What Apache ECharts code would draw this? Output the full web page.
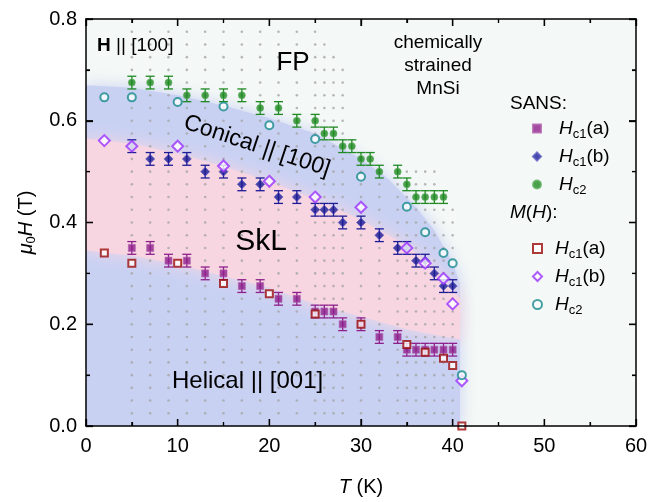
<!DOCTYPE html>
<html><head><meta charset="utf-8">
<script src="https://cdn.jsdelivr.net/npm/echarts@6/dist/echarts.min.js"></script>
<style>html,body{margin:0;padding:0;background:#fff}#c{width:652px;height:502px}</style>
</head><body><div id="c"></div>
<script>
// ---------------- data ----------------
const X_TICKS = [0, 10, 20, 30, 40, 50, 60];
const X_MINOR = [5, 15, 25, 35, 45, 55];
const Y_TICKS = [0.0, 0.2, 0.4, 0.6, 0.8];
const Y_MINOR = [0.1, 0.3, 0.5, 0.7];

// SANS
const T_SANS_A = [5,7,9,11,13,15,17,19,21,23,25,26,27,28,30,32,34,35,36,37,38,39,40];
const H_SANS_A = [0.35,0.35,0.325,0.325,0.30,0.30,0.275,0.275,0.25,0.25,0.225,0.225,0.225,0.20,0.20,0.175,0.175,0.15,0.15,0.15,0.15,0.15,0.15];
const T_SANS_B = [5,7,9,11,13,15,17,19,21,23,25,26,27,28,30,32,34,35,36,37,38,39,40];
const H_SANS_B = [0.55,0.525,0.525,0.525,0.50,0.50,0.475,0.475,0.45,0.45,0.425,0.425,0.425,0.40,0.40,0.375,0.35,0.35,0.325,0.325,0.30,0.275,0.275];
const T_SANS_C2 = [5,7,9,11,13,15,17,19,21,23,25,26,27,28,29,30,31,32,34,35,36,37,38,39];
const H_SANS_C2 = [0.675,0.675,0.675,0.65,0.65,0.65,0.65,0.625,0.625,0.60,0.60,0.575,0.575,0.55,0.55,0.525,0.525,0.50,0.50,0.475,0.45,0.45,0.45,0.45];
const ERR_SANS = 0.0125;

// M(H)
const T_MH = [2,5,10,15,20,25,30,35,37,39,40,41];
const H_MH_A = [0.34,0.32,0.32,0.28,0.26,0.22,0.20,0.16,0.145,0.133,0.119,0.0];
const H_MH_B = [0.561,0.55,0.55,0.511,0.481,0.45,0.43,0.35,0.32,0.29,0.24,0.089];
const H_MH_C2 = [0.646,0.646,0.637,0.628,0.591,0.564,0.49,0.431,0.381,0.34,0.32,0.10];

// SANS measurement grid (gray dots)
const GRID_T = [5,7,9,11,13,15,17,19,21,23,25,26,27,28,30,32,34,35,36,37,38,39,40];
const GRID_TOP = [0.775,0.775,0.775,0.775,0.775,0.775,0.775,0.775,0.775,0.775,0.775,0.75,0.725,0.70,0.525,0.50,0.50,0.50,0.50,0.50,0.50,0.45,0.425];
const GRID_ROWS = [0.025,0.05,0.075,0.1,0.125,0.15,0.175,0.2,0.225,0.25,0.275,0.3,0.325,0.35,0.375,0.4,0.425,0.45,0.475,0.5,0.525,0.55,0.575,0.6,0.625,0.65,0.675,0.7,0.725,0.75,0.775];

// phase boundaries
const FP_BOUND_T = [0,5,10,15,20,25,30,33,36,38,40,40.8];
const FP_BOUND_H = [0.67,0.665,0.65,0.63,0.605,0.575,0.525,0.485,0.43,0.385,0.32,0.28];
const SKL_TOP_T = [0,5,10,15,20,25,30,35,38,40.8];
const SKL_TOP_H = [0.565,0.555,0.535,0.51,0.48,0.445,0.405,0.355,0.31,0.25];
const SKL_BOT_T = [0,5,10,15,20,25,30,35,40.8];
const SKL_BOT_H = [0.345,0.335,0.318,0.295,0.272,0.24,0.215,0.19,0.17];
const T_EDGE = 40.8;

// ---------------- build ----------------
const FONT = 'Liberation Sans, Arial, Helvetica, sans-serif';
const pair = (ts, hs) => ts.map((t, i) => [t, hs[i]]);

const bluePoly = [[0, 0]].concat(pair(FP_BOUND_T, FP_BOUND_H), [[T_EDGE, 0]]);
const pinkPoly = pair(SKL_TOP_T, SKL_TOP_H).concat(pair(SKL_BOT_T, SKL_BOT_H).reverse());

const gridDots = [];
GRID_T.forEach((t, i) => GRID_ROWS.forEach(h => { if (h <= GRID_TOP[i] + 1e-9) gridDots.push([t, h]); }));

function region(pts, color) {
  return {
    type: 'custom', silent: true, clip: true, z: 1,
    data: [[0, 0]],
    renderItem: (params, api) => ({
      type: 'polygon',
      shape: { points: pts.map(p => api.coord(p)) },
      style: { fill: color, shadowBlur: 16, shadowColor: color }
    })
  };
}

function errBars(pts, err, color) {
  return {
    type: 'custom', silent: true, z: 3,
    data: pts.map(p => [p[0], p[1], err]),
    encode: { x: 0, y: 1 },
    renderItem: (params, api) => {
      const t = api.value(0), h = api.value(1), e = api.value(2);
      const a = api.coord([t, h + e]), b = api.coord([t, h - e]);
      const w = 4.5, st = { stroke: color, lineWidth: 1.3 };
      return { type: 'group', children: [
        { type: 'line', shape: { x1: a[0], y1: a[1], x2: b[0], y2: b[1] }, style: st },
        { type: 'line', shape: { x1: a[0] - w, y1: a[1], x2: a[0] + w, y2: a[1] }, style: st },
        { type: 'line', shape: { x1: b[0] - w, y1: b[1], x2: b[0] + w, y2: b[1] }, style: st }
      ]};
    }
  };
}

// inward ticks on all four sides, placed through the axes' own scales
const tickSeries = {
  type: 'custom', silent: true, clip: false, z: 20, zlevel: 1,
  data: [[0, 0]],
  renderItem: (params, api) => {
    const xMin = X_TICKS[0], xMax = X_TICKS[X_TICKS.length - 1];
    const yMin = Y_TICKS[0], yMax = Y_TICKS[Y_TICKS.length - 1];
    const kids = [];
    const st = w => ({ stroke: '#000', lineWidth: w });
    const xt = (v, len, w) => {
      const b = api.coord([v, yMin]), t = api.coord([v, yMax]);
      kids.push({ type: 'line', shape: { x1: b[0], y1: b[1], x2: b[0], y2: b[1] - len }, style: st(w) });
      kids.push({ type: 'line', shape: { x1: t[0], y1: t[1], x2: t[0], y2: t[1] + len }, style: st(w) });
    };
    const yt = (v, len, w) => {
      const l = api.coord([xMin, v]), r = api.coord([xMax, v]);
      kids.push({ type: 'line', shape: { x1: l[0], y1: l[1], x2: l[0] + len, y2: l[1] }, style: st(w) });
      kids.push({ type: 'line', shape: { x1: r[0], y1: r[1], x2: r[0] - len, y2: r[1] }, style: st(w) });
    };
    X_TICKS.forEach(v => xt(v, 7, 1.3));
    X_MINOR.forEach(v => xt(v, 4, 1.2));
    Y_TICKS.forEach(v => yt(v, 7, 1.3));
    Y_MINOR.forEach(v => yt(v, 4, 1.2));
    return { type: 'group', children: kids };
  }
};

const C_A = '#8e1f8c', C_B = '#1c1c96', C_C2 = '#1f8a22';
const C_MA = '#9a0a0a', C_MB = '#9a32ff', C_MC2 = '#16898c';

const richLeg = {
  i: { fontFamily: FONT, fontStyle: 'italic', fontSize: 19, color: '#000', lineHeight: 24 },
  s: { fontFamily: FONT, fontSize: 13, color: '#000', lineHeight: 13, verticalAlign: 'bottom' },
  n: { fontFamily: FONT, fontSize: 19, color: '#000', lineHeight: 24 }
};
const LEG_LABEL = {
  'SANS Hc1(a)': '{i|H}{s|c1}{n|(a)}', 'SANS Hc1(b)': '{i|H}{s|c1}{n|(b)}', 'SANS Hc2': '{i|H}{s|c2}',
  'M(H) Hc1(a)': '{i|H}{s|c1}{n|(a)}', 'M(H) Hc1(b)': '{i|H}{s|c1}{n|(b)}', 'M(H) Hc2': '{i|H}{s|c2}'
};

function axisStyle(extra) {
  return Object.assign({
    zlevel: 1, z: 10,
    axisLine: { show: true, onZero: false, lineStyle: { color: '#000', width: 1.5 } },
    axisTick: { show: true, inside: true, length: 7, lineStyle: { color: '#000', width: 1.3, opacity: 1 } },
    minorTick: { show: true, splitNumber: 2, length: 4, lineStyle: { color: '#000', width: 1.2, opacity: 1 } },
    splitLine: { show: false },
    minorSplitLine: { show: false }
  }, extra);
}

const option = {
  animation: false,
  backgroundColor: '#fff',
  grid: { left: 86, top: 19, width: 550, height: 409, show: true, backgroundColor: '#f4f8f6', borderWidth: 0 },
  xAxis: [
    axisStyle({ type: 'value', min: X_TICKS[0], max: X_TICKS[X_TICKS.length - 1], interval: 10, position: 'bottom',
      axisLabel: { fontSize: 20, color: '#000', margin: 10, fontFamily: FONT },
      name: '{i|T} (K)', nameLocation: 'middle', nameGap: 51,
      nameTextStyle: { fontSize: 20, color: '#000', fontFamily: FONT,
        rich: { i: { fontFamily: FONT, fontStyle: 'italic', fontSize: 20, color: '#000' } } } }),
    axisStyle({ type: 'value', min: 0, max: 60, interval: 10, position: 'top', axisLabel: { show: false } })
  ],
  yAxis: [
    axisStyle({ type: 'value', min: Y_TICKS[0], max: Y_TICKS[Y_TICKS.length - 1], interval: 0.2, position: 'left',
      axisLabel: { fontSize: 20, color: '#000', margin: 9, fontFamily: FONT, formatter: v => v.toFixed(1) },
      name: '{i|μ}{s|0}{i|H} (T)', nameLocation: 'middle', nameGap: 44, nameRotate: 90,
      nameTextStyle: { fontSize: 20, color: '#000', fontFamily: FONT, lineHeight: 24,
        rich: { i: { fontFamily: FONT, fontStyle: 'italic', fontSize: 20, color: '#000', lineHeight: 24 },
                s: { fontFamily: FONT, fontSize: 13, color: '#000', lineHeight: 13, verticalAlign: 'bottom' } } } }),
    axisStyle({ type: 'value', min: 0, max: 0.8, interval: 0.2, position: 'right', axisLabel: { show: false } })
  ],
  legend: [
    { data: ['SANS Hc1(a)', 'SANS Hc1(b)', 'SANS Hc2'], orient: 'vertical', left: 527, top: 114,
      itemWidth: 8, itemHeight: 8, itemGap: 6.5, selectedMode: false,
      formatter: n => LEG_LABEL[n], textStyle: { rich: richLeg, padding: [0, 0, 0, 13] } },
    { data: ['M(H) Hc1(a)', 'M(H) Hc1(b)', 'M(H) Hc2'], orient: 'vertical', left: 527, top: 234,
      itemWidth: 9, itemHeight: 9, itemGap: 6.5, selectedMode: false,
      formatter: n => LEG_LABEL[n], textStyle: { rich: richLeg, padding: [0, 0, 0, 8] } }
  ],
  graphic: [
    { type: 'text', left: 97, top: 36, z: 10, silent: true, style: { text: '{b|H} || [100]', font: '19px ' + FONT, fill: '#000',
      rich: { b: { fontFamily: FONT, fontWeight: 'bold', fontSize: 19, fill: '#000' } } } },
    { type: 'text', x: 293, y: 63, z: 10, silent: true, style: { text: 'FP', font: '26px ' + FONT, fill: '#000', align: 'center', verticalAlign: 'middle' } },
    { type: 'text', x: 438, y: 66, z: 10, silent: true, style: { text: 'chemically\nstrained\nMnSi', font: '19px ' + FONT, lineHeight: 23, fill: '#000', align: 'center', verticalAlign: 'middle' } },
    { type: 'text', x: 257, y: 146, rotation: -0.32, z: 10, silent: true, style: { text: 'Conical || [100]', font: '23px ' + FONT, fill: '#000', align: 'center', verticalAlign: 'middle' } },
    { type: 'text', x: 261, y: 242, z: 10, silent: true, style: { text: 'SkL', font: '30px ' + FONT, fill: '#000', align: 'center', verticalAlign: 'middle' } },
    { type: 'text', x: 172, y: 381, z: 10, silent: true, style: { text: 'Helical || [001]', font: '24px ' + FONT, fill: '#000', align: 'left', verticalAlign: 'middle' } },
    { type: 'text', x: 510, y: 104, z: 10, silent: true, style: { text: 'SANS:', font: '19px ' + FONT, fill: '#000', verticalAlign: 'middle' } },
    { type: 'text', x: 510, y: 213, z: 10, silent: true, style: { text: '{i|M}({i|H}):', font: '19px ' + FONT, fill: '#000', verticalAlign: 'middle',
      rich: { i: { fontFamily: FONT, fontStyle: 'italic', fontSize: 19, fill: '#000' } } } }
  ],
  series: [
    region(bluePoly, '#c9d1f3'),
    region(pinkPoly, '#f8d6e1'),
    { type: 'scatter', silent: true, z: 2, data: gridDots, symbol: 'circle', symbolSize: 2.6,
      itemStyle: { color: '#a6a6a6' } },
    errBars(pair(T_SANS_A, H_SANS_A), ERR_SANS, C_A),
    errBars(pair(T_SANS_B, H_SANS_B), ERR_SANS, C_B),
    errBars(pair(T_SANS_C2, H_SANS_C2), ERR_SANS, C_C2),
    { name: 'SANS Hc1(a)', type: 'scatter', z: 4, data: pair(T_SANS_A, H_SANS_A), symbol: 'rect', symbolSize: 7,
      itemStyle: { color: C_A, borderColor: '#b05fae', borderWidth: 0.8 } },
    { name: 'SANS Hc1(b)', type: 'scatter', z: 4, data: pair(T_SANS_B, H_SANS_B), symbol: 'diamond', symbolSize: 9,
      itemStyle: { color: C_B, borderColor: '#5a5ac0', borderWidth: 0.8 } },
    { name: 'SANS Hc2', type: 'scatter', z: 4, data: pair(T_SANS_C2, H_SANS_C2), symbol: 'circle', symbolSize: 7,
      itemStyle: { color: C_C2, borderColor: '#5fb05f', borderWidth: 0.8 } },
    { name: 'M(H) Hc1(a)', type: 'scatter', z: 5, data: pair(T_MH, H_MH_A), symbol: 'rect', symbolSize: 7,
      itemStyle: { color: '#fff', borderColor: C_MA, borderWidth: 2 } },
    { name: 'M(H) Hc1(b)', type: 'scatter', z: 5, data: pair(T_MH, H_MH_B), symbol: 'diamond', symbolSize: 11,
      itemStyle: { color: '#fff', borderColor: C_MB, borderWidth: 2 } },
    { name: 'M(H) Hc2', type: 'scatter', z: 5, data: pair(T_MH, H_MH_C2), symbol: 'circle', symbolSize: 8,
      itemStyle: { color: '#fff', borderColor: C_MC2, borderWidth: 2 } },
    tickSeries
  ]
};

const chart = echarts.init(document.getElementById('c'), null, { renderer: 'canvas' });
chart.setOption(option);
</script>
</body></html>
